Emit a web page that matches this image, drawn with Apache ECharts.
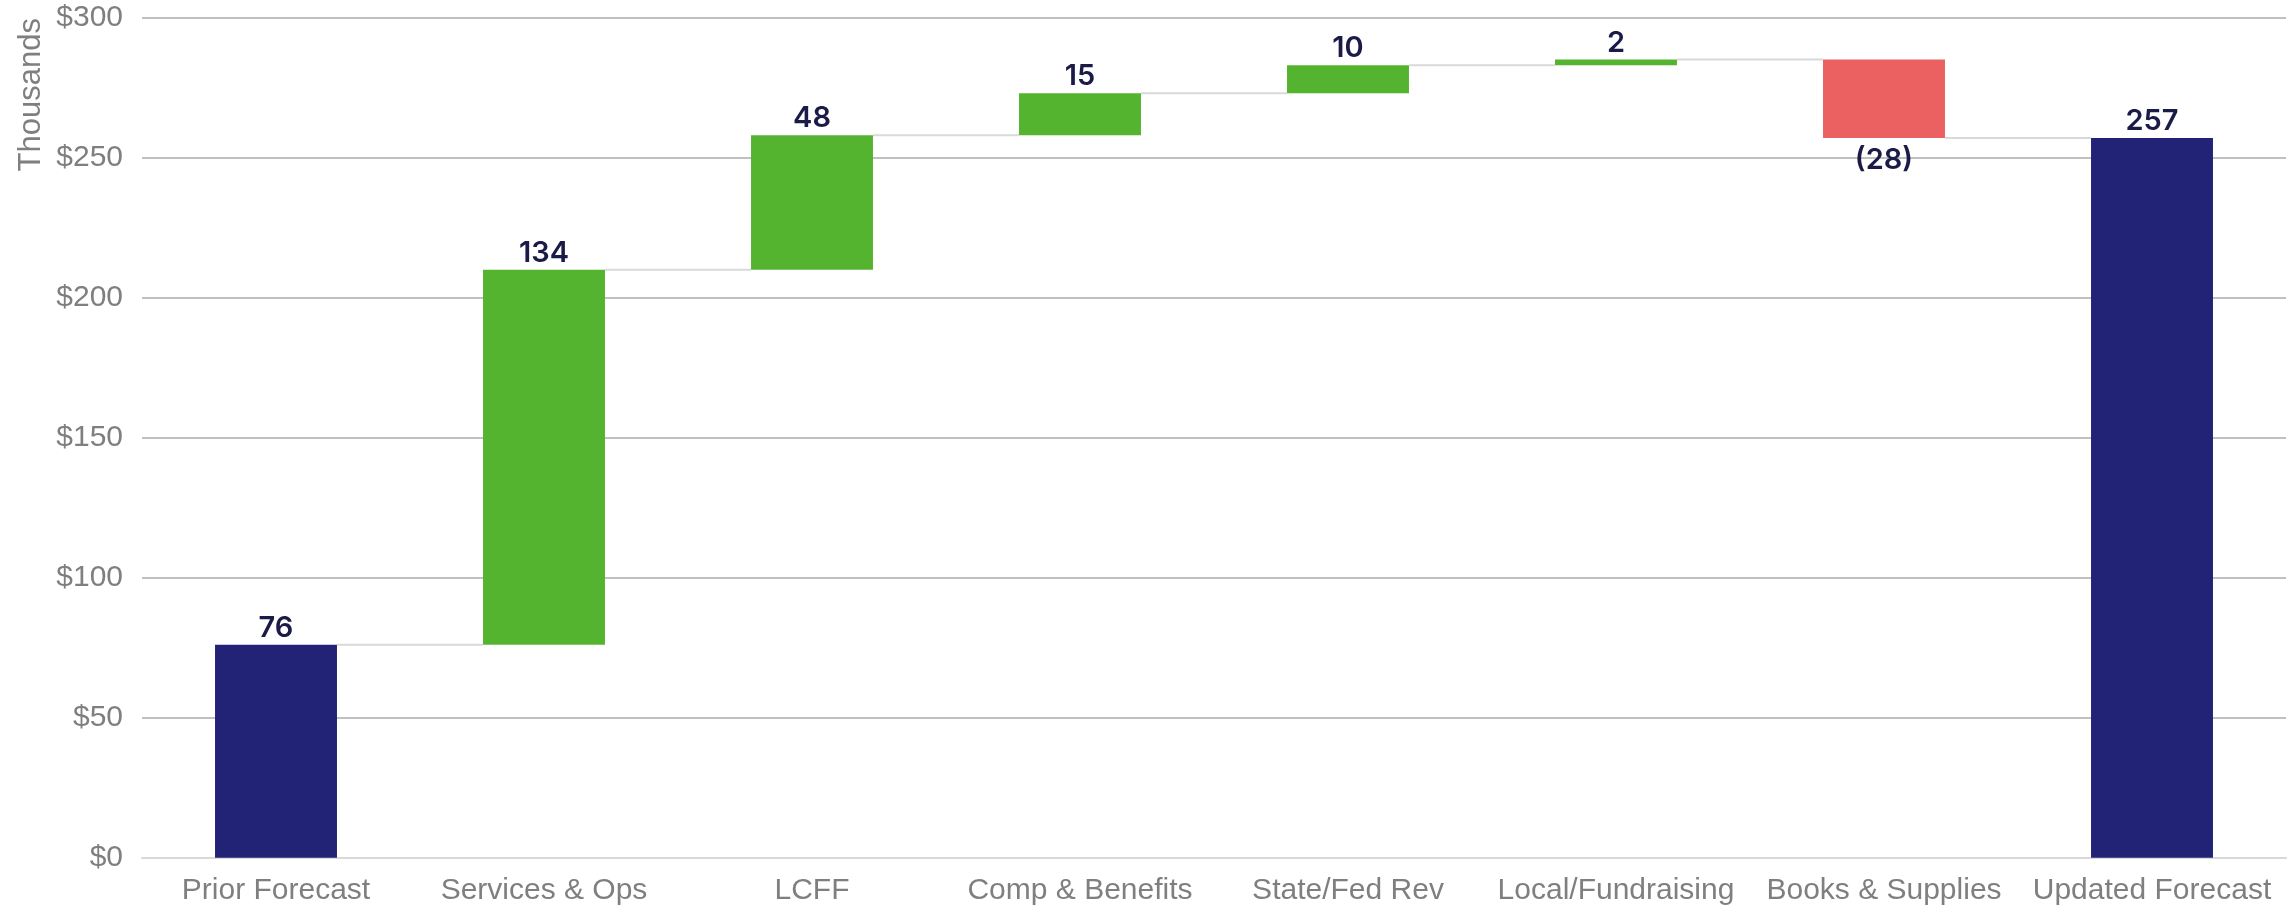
<!DOCTYPE html>
<html>
<head>
<meta charset="utf-8">
<script src="https://cdn.jsdelivr.net/npm/echarts@6/dist/echarts.min.js"></script>
<style>
  html, body { margin: 0; padding: 0; background: #ffffff; }
  #chart { width: 2295px; height: 915px; }
</style>
</head>
<body>
<div id="chart"></div>
<script>
// Forecast bridge, in thousands of dollars
const categories = ['Prior Forecast', 'Services & Ops', 'LCFF', 'Comp & Benefits',
  'State/Fed Rev', 'Local/Fundraising', 'Books & Supplies', 'Updated Forecast'];
// Totals are the first and last entries; everything in between is a change
const changes = [76, 134, 48, 15, 10, 2, -28, 257];
const kinds = ['total', 'delta', 'delta', 'delta', 'delta', 'delta', 'delta', 'total'];
const yTicks = [0, 50, 100, 150, 200, 250, 300];

const NAVY = '#222277';
const GREEN = '#55b42f';
const RED = '#eb6060';
const LABEL_DARK = '#1b1b48';
const BAR_RATIO = 0.455;

// Running totals: invisible offset under each floating bar, plus the level after each step
const offsets = [];
const levels = [];
let running = 0;
changes.forEach((v, i) => {
  if (kinds[i] === 'total') {
    offsets.push(0);
    running = v;
  } else {
    offsets.push(v >= 0 ? running : running + v);
    running += v;
  }
  levels.push(running);
});

const barData = changes.map((v, i) => ({
  value: Math.abs(v),
  itemStyle: { color: kinds[i] === 'total' ? NAVY : (v >= 0 ? GREEN : RED) },
  label: v < 0
    ? { position: 'bottom', distance: 8, formatter: '(' + Math.abs(v) + ')' }
    : { position: 'top', distance: 2, formatter: String(v) }
}));

// Connector segments from each bar's right edge to the next bar's left edge
const connectorData = levels.slice(0, -1).map((lv, i) => [i, lv]);

const chart = echarts.init(document.getElementById('chart'), null, { renderer: 'canvas' });
chart.setOption({
  animation: false,
  backgroundColor: '#ffffff',
  grid: { left: 142, right: 9, top: 17.6, bottom: 57.3, containLabel: false },
  xAxis: {
    type: 'category',
    data: categories,
    axisLine: { show: true, lineStyle: { color: '#d9d9d9', width: 2 } },
    axisTick: { show: false },
    axisLabel: {
      color: '#7f7f7f',
      fontSize: 30,
      fontFamily: 'Liberation Sans, Arial, sans-serif',
      margin: 18,
      interval: 0
    }
  },
  yAxis: {
    type: 'value',
    min: yTicks[0],
    max: yTicks[yTicks.length - 1],
    interval: 50,
    axisLine: { show: false },
    axisTick: { show: false },
    splitLine: { show: true, lineStyle: { color: '#c0c0c0', width: 2 } },
    axisLabel: {
      color: '#7f7f7f',
      fontSize: 30,
      fontFamily: 'Liberation Sans, Arial, sans-serif',
      margin: 19,
      formatter: v => '$' + v
    }
  },
  graphic: [{
    type: 'text',
    left: 16,
    top: 18,
    rotation: Math.PI / 2,
    style: {
      text: 'Thousands',
      fill: '#7f7f7f',
      fontSize: 31,
      fontFamily: 'Liberation Sans, Arial, sans-serif'
    }
  }],
  series: [
    {
      name: 'offset',
      type: 'bar',
      stack: 'bridge',
      barWidth: (BAR_RATIO * 100) + '%',
      itemStyle: { color: 'rgba(0,0,0,0)' },
      emphasis: { disabled: true },
      data: offsets,
      z: 2
    },
    {
      name: 'change',
      type: 'bar',
      stack: 'bridge',
      barWidth: (BAR_RATIO * 100) + '%',
      data: barData,
      label: {
        show: true,
        color: LABEL_DARK,
        fontSize: 29,
        fontWeight: 600,
        fontFamily: 'Inter, Liberation Sans, Arial, sans-serif'
      },
      z: 3
    },
    {
      name: 'connector',
      type: 'custom',
      data: connectorData,
      z: 1,
      silent: true,
      renderItem: function (params, api) {
        const i = api.value(0);
        const lv = api.value(1);
        const p = api.coord([i, lv]);
        const band = api.size([1, 0])[0];
        const half = band * BAR_RATIO / 2;
        return {
          type: 'line',
          shape: { x1: p[0] + half, y1: p[1], x2: p[0] + band - half, y2: p[1] },
          style: { stroke: '#d9d9d9', lineWidth: 2 }
        };
      }
    }
  ]
});
</script>
</body>
</html>
